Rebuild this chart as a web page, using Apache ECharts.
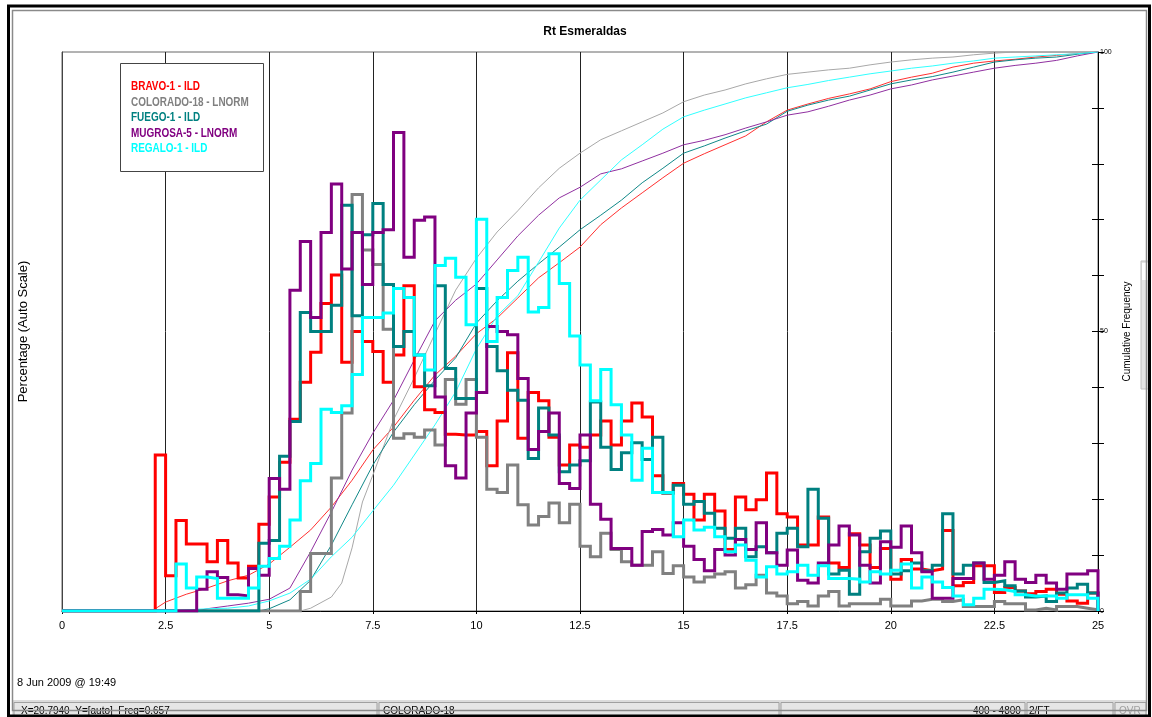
<!DOCTYPE html>
<html><head><meta charset="utf-8">
<script src="https://cdn.jsdelivr.net/npm/echarts@6/dist/echarts.min.js"></script>
<style>html,body{margin:0;padding:0;background:#fff}#c{width:1152px;height:717px}</style>
</head><body><div id="c"></div>
<script>
const SANS = "'Liberation Sans',Arial,sans-serif";

const binWidth = 0.25;
const xMin = 0, xMax = 25, xStep = 2.5;
const seriesNames = ['BRAVO-1 - ILD', 'COLORADO-18 - LNORM', 'FUEGO-1 - ILD', 'MUGROSA-5 - LNORM', 'REGALO-1 - ILD'];
const seriesColors = ['#ff0000', '#808080', '#008080', '#800080', '#00ffff'];
const cumColors = ['#ff3030', '#a8a8a8', '#108888', '#9030a0', '#30ffff'];

// histogram heights per 0.25 bin (percentage, auto scale)
const bravoHist = [
  0,0,0,0,0,0,0,0,0,27.9,
  6.3,16.2,12.0,12.0,8.8,12.6,8.6,5.9,8.0,15.5,
  20.4,26.6,34.3,40.9,46.3,55.0,60.1,44.5,50.0,48.2,
  46.4,40.9,45.8,58.2,40.1,36.0,35.5,31.6,31.5,31.5,
  32.1,26.0,34.0,46.2,30.9,39.1,37.6,31.1,26.1,29.7,
  29.3,31.5,34.0,29.7,34.0,37.2,34.7,24.2,21.1,22.8,
  20.9,16.3,20.9,17.9,11.0,20.4,18.1,19.9,24.7,17.4,
  16.8,11.8,11.8,16.8,8.6,7.8,13.8,11.8,7.8,11.2,
  5.7,9.2,7.5,7.2,7.5,14.4,4.5,5.1,8.1,8.1,
  3.3,4.2,3.6,3.1,3.5,3.9,3.0,1.8,1.4,3.2];
const coloradoHist = [
  0,0,0,0,0,0,0,0,0,0,
  0,0,0,0,0,0,0,0,0,0,
  0,0,0,3.5,10.3,10.3,23.8,35.4,74.5,64.6,
  62.0,50.4,30.9,31.7,31.1,32.4,29.7,41.4,37.0,41.4,
  31.1,21.8,21.2,26.1,19.0,15.4,16.9,19.3,15.8,19.1,
  11.6,9.7,13.9,11.0,8.8,8.2,8.2,10.6,6.7,8.1,
  6.1,5.2,6.1,6.6,7.0,4.1,4.7,6.4,3.2,2.7,
  1.3,1.7,0.9,2.7,3.5,0.9,1.3,1.3,1.3,2.1,
  0.9,0.9,1.8,2.1,2.1,1.7,2.0,0.8,0.8,0.8,
  1.7,1.3,1.3,0.2,0.5,0.2,0.8,0.8,0.5,0.2];
const fuegoHist = [
  0,0,0,0,0,0,0,0,0,0,
  0,0,0,0,0,0,0,0,0,12.1,
  12.6,27.7,33.9,53.4,50.0,50.0,54.7,72.6,52.8,67.3,
  72.9,58.4,47.3,50.0,45.8,40.3,58.2,43.4,38.0,38.0,
  57.7,47.3,43.0,39.5,37.7,27.3,36.3,31.5,24.9,26.1,
  26.9,37.4,29.3,25.3,28.3,30.1,27.1,31.1,21.1,22.5,
  19.1,19.6,17.5,14.8,13.0,14.8,9.7,11.5,10.4,13.9,
  14.8,11.5,21.8,16.6,6.6,7.3,3.0,10.6,13.0,14.3,
  6.6,7.2,8.6,7.2,8.2,17.4,6.6,8.2,8.6,5.1,
  5.4,4.5,3.6,2.5,2.7,1.7,3.2,4.1,4.8,3.2];
const mugrosaHist = [
  0,0,0,0,0,0,0,0,0,0,
  0,0,0,3.9,7.0,6.0,2.9,2.7,7.6,6.4,
  23.7,21.8,57.4,66.1,52.5,67.7,76.4,61.2,67.7,58.4,
  67.7,68.2,85.6,63.3,69.9,70.5,38.3,26.0,23.8,35.4,
  39.1,50.9,50.0,49.4,41.6,28.9,32.1,35.4,22.8,21.9,
  31.5,19.1,16.4,11.2,11.2,8.2,14.2,14.6,13.6,15.8,
  11.6,9.2,7.2,11.0,10.0,12.8,11.0,15.8,10.4,8.2,
  10.9,5.5,5.0,8.6,11.8,15.2,13.6,8.2,5.0,12.4,
  11.4,15.2,10.4,7.0,2.3,2.3,5.8,5.8,8.6,5.7,
  6.4,8.8,5.7,5.1,6.4,5.0,3.9,6.6,6.6,7.2];
const regaloHist = [
  0,0,0,0,0,0,0,0,0,0,
  0,8.4,4.1,6.1,5.8,2.3,2.3,2.3,4.1,8.0,
  9.4,11.6,16.3,23.3,26.4,36.1,35.5,36.7,42.3,52.5,
  52.5,53.3,57.7,56.1,45.8,43.1,61.8,63.1,59.7,51.2,
  70.1,48.2,56.1,60.9,63.3,53.5,54.3,63.9,58.6,49.2,
  44.0,37.6,43.2,36.9,31.5,23.4,29.1,21.2,21.2,13.3,
  16.3,14.5,15.0,13.3,10.6,11.8,9.1,6.1,7.9,6.6,
  7.0,8.2,6.4,8.1,5.8,5.8,5.7,5.2,7.0,6.6,
  7.3,8.4,4.1,6.1,5.2,4.2,2.7,1.1,2.3,3.9,
  3.8,3.5,2.9,2.7,2.7,2.7,2.3,2.9,2.9,2.3];

// cumulative frequency curves [x, percent]
const bravoCum = [[2.25,0.4],[2.5,1.6],[3,3.0],[3.5,4.1],[4,5.4],[4.5,6.4],[5,8.4],[5.5,11.4],[6,14.5],[6.5,18.6],[7,23.4],[7.5,28.8],[8,32.9],[8.5,37.7],[9,42.2],[9.5,45.6],[10,49.6],[10.5,52.4],[11,56.0],[11.5,59.6],[12,62.3],[12.5,65.1],[13,69.1],[13.5,72.1],[14,74.8],[14.5,77.5],[15,80.1],[15.5,81.8],[16,83.4],[16.5,85.0],[17,87.5],[17.5,89.6],[18,90.7],[18.5,91.7],[19,92.5],[19.5,93.4],[20,94.7],[20.5,95.5],[21,96.2],[21.5,97.3],[22,98.0],[22.5,98.4],[23,98.7],[23.5,99.1],[24,99.4],[24.5,99.7],[25,100]];
const coloradoCum = [[5.75,0],[6,0.5],[6.5,2.5],[6.75,5.0],[7,11.3],[7.25,19.5],[7.5,24.3],[8,34.2],[8.5,41.7],[9,49.6],[9.5,57.4],[10,63.1],[10.5,67.8],[11,71.6],[11.5,75.7],[12,79.2],[12.5,81.9],[13,84.3],[13.5,85.9],[14,87.5],[14.5,89.1],[15,91.1],[15.5,92.3],[16,93.2],[16.5,94.3],[17,95.2],[17.5,96.0],[18,96.4],[18.5,96.8],[19,97.1],[19.5,97.7],[20,98.2],[20.5,98.6],[21,98.9],[21.5,99.1],[22,99.5],[22.5,99.8],[23,100],[25,100]];
const fuegoCum = [[4.75,0],[5,0.4],[5.5,2.0],[6,5.5],[6.5,11.8],[7,19.0],[7.5,26.1],[8,32.0],[8.5,36.9],[9,41.3],[9.5,45.3],[10,51.5],[10.5,55.5],[11,59.0],[11.5,62.1],[12,65.1],[12.5,68.2],[13,70.8],[13.5,73.5],[14,76.6],[14.5,79.2],[15,81.9],[15.5,83.2],[16,84.6],[16.5,85.9],[17,87.1],[17.5,89.4],[18,90.5],[18.5,91.4],[19,92.1],[19.5,93.2],[20,94.3],[20.5,95.0],[21,95.6],[21.5,96.4],[22,97.3],[22.5,98.2],[23,98.6],[23.5,98.9],[24,99.1],[24.5,99.6],[25,100]];
const mugrosaCum = [[3.25,0],[3.5,0.4],[4,0.9],[4.5,1.4],[5,2.1],[5.5,4.1],[6,10.6],[6.5,17.7],[7,25.2],[7.5,31.8],[8,37.7],[8.5,44.9],[9,51.9],[9.5,55.6],[10,58.5],[10.5,62.8],[11,67.1],[11.5,70.8],[12,73.9],[12.5,75.8],[13,78.2],[13.5,79.1],[14,80.5],[14.5,81.9],[15,83.4],[15.5,84.2],[16,85.2],[16.5,86.4],[17,87.5],[17.5,88.7],[18,89.3],[18.5,90.3],[19,91.4],[19.5,92.3],[20,93.4],[20.5,94.1],[21,95.0],[21.5,95.7],[22,96.4],[22.5,97.1],[23,97.6],[23.5,98.0],[24,98.5],[24.5,99.3],[25,100]];
const regaloCum = [[2.75,0],[3,0.2],[3.5,0.4],[4,0.5],[4.5,0.9],[5,1.8],[5.5,3.2],[6,5.7],[6.5,9.7],[7,13.2],[7.5,17.9],[8,22.5],[8.5,27.9],[9,33.3],[9.5,39.2],[10,46.9],[10.5,52.8],[11,56.4],[11.5,62.4],[12,68.5],[12.5,73.5],[13,77.1],[13.5,80.7],[14,83.4],[14.5,86.2],[15,88.4],[15.5,89.6],[16,90.7],[16.5,91.8],[17,92.7],[17.5,93.6],[18,94.2],[18.5,94.9],[19,95.5],[19.5,96.1],[20,96.6],[20.5,97.1],[21,97.5],[21.5,98.0],[22,98.4],[22.5,98.9],[23,99.1],[23.5,99.3],[24,99.5],[24.5,99.7],[25,100]];

const histSets = [bravoHist, coloradoHist, fuegoHist, mugrosaHist, regaloHist];
const cumSets = [bravoCum, coloradoCum, fuegoCum, mugrosaCum, regaloCum];

function histData(vals) {
  const d = vals.map((v, i) => [i * binWidth, v]);
  d.push([vals.length * binWidth, vals[vals.length - 1]]);
  d.push([vals.length * binWidth, 0]);
  return d;
}

const series = [];
cumSets.forEach((c, i) => {
  series.push({
    name: seriesNames[i] + ' (cum)', type: 'line', yAxisIndex: 1, data: c,
    showSymbol: false, symbol: 'none', silent: true, z: 2,
    lineStyle: { color: cumColors[i], width: 1 }
  });
});
histSets.forEach((h, i) => {
  series.push({
    name: seriesNames[i], type: 'line', yAxisIndex: 0, step: 'end', data: histData(h),
    showSymbol: false, symbol: 'none', silent: true, z: 3 + i,
    lineStyle: { color: seriesColors[i], width: 3, join: 'miter' }
  });
});

const legendTexts = seriesNames.map((n, i) => ({
  type: 'text', x: 131, y: 87 + i * 15.4, scaleX: 0.83, z: 51,
  style: { text: n, fill: seriesColors[i], font: "bold 12px " + SANS, textVerticalAlign: 'middle', verticalAlign: 'middle' }
}));

const panel = (x, w) => ({
  type: 'rect', shape: { x: x, y: 702.5, width: w, height: 14 },
  style: { fill: '#e6e6e6', stroke: '#a0a0a0', lineWidth: 1 }
});
const statusText = (x, t, c) => ({
  type: 'text', x: x, y: 711,
  style: { text: t, fill: c || '#000', font: "10px " + SANS, textVerticalAlign: 'middle', verticalAlign: 'middle' }
});

const option = {
  animation: false,
  backgroundColor: '#fff',
  title: {
    text: 'Rt Esmeraldas', left: 580, top: 21, textAlign: 'center',
    textStyle: { fontSize: 12, fontWeight: 'bold', fontFamily: SANS, color: '#000' }
  },
  grid: { left: 62, right: 54, top: 52, bottom: 106, show: true, borderColor: '#666', borderWidth: 1, backgroundColor: 'transparent' },
  xAxis: {
    type: 'value', min: xMin, max: xMax, interval: xStep,
    axisLine: { lineStyle: { color: '#000', width: 1 } },
    axisTick: { show: true, length: 3, lineStyle: { color: '#000' } },
    axisLabel: { color: '#000', fontSize: 11, fontFamily: SANS, margin: 9 },
    splitLine: { show: true, lineStyle: { color: '#222', width: 1 } }
  },
  yAxis: [
    {
      type: 'value', min: 0, max: 100, position: 'left',
      axisLine: { show: true, lineStyle: { color: '#444' } },
      axisTick: { show: false }, axisLabel: { show: false }, splitLine: { show: false },
      name: 'Percentage (Auto Scale)', nameLocation: 'middle', nameRotate: 90, nameGap: 32,
      nameTextStyle: { fontSize: 13, fontFamily: SANS, color: '#000' }
    },
    {
      type: 'value', min: 0, max: 100, interval: 10, position: 'right',
      axisLine: { show: true, lineStyle: { color: '#000' } },
      axisTick: { show: true, length: 6, lineStyle: { color: '#000' } },
      axisLabel: { show: true, fontSize: 7, fontFamily: SANS, color: '#000', margin: 2,
        formatter: v => (v % 50 === 0 ? String(v) : '') },
      splitLine: { show: false },
      name: 'Cumulative Frequency', nameLocation: 'middle', nameRotate: 90, nameGap: 20,
      nameTextStyle: { fontSize: 10, fontFamily: SANS, color: '#000' }
    },
    {
      type: 'value', min: 0, max: 100, interval: 10, position: 'right',
      axisLine: { show: false },
      axisTick: { show: true, inside: true, length: 6, lineStyle: { color: '#000' } },
      axisLabel: { show: false }, splitLine: { show: false }
    }
  ],
  series: series,
  graphic: [
    { type: 'rect', shape: { x: 8.5, y: 6, width: 1141, height: 710 }, style: { fill: 'none', stroke: '#000', lineWidth: 3 }, z: 100 },
    { type: 'rect', shape: { x: 12.5, y: 10.5, width: 1134, height: 700 }, style: { fill: 'none', stroke: '#8a8a8a', lineWidth: 1.5 }, z: 99 },
    { type: 'rect', shape: { x: 120.5, y: 63.5, width: 143, height: 108 }, style: { fill: '#fff', stroke: '#444', lineWidth: 1 }, z: 50 },
    ...legendTexts,
    { type: 'text', x: 17, y: 683, style: { text: '8 Jun 2009 @ 19:49', fill: '#000', font: "11px " + SANS, textVerticalAlign: 'middle', verticalAlign: 'middle' } },
    { type: 'rect', shape: { x: 12, y: 700, width: 1135, height: 16 }, style: { fill: '#dcdcdc' } },
    panel(14, 363), panel(379, 400), panel(781, 244), panel(1027, 86), panel(1115, 31),
    statusText(21, 'X=20.7940  Y=[auto]  Freq=0.657'),
    statusText(383, 'COLORADO-18'),
    statusText(973, '400 - 4800'),
    statusText(1029, '2/FT'),
    statusText(1119, 'OVR', '#a0a0a0'),
    { type: 'rect', shape: { x: 1141, y: 261, width: 9, height: 128 }, style: { fill: '#e4e4e4', stroke: '#c0c0c0', lineWidth: 1 } },
    { type: 'rect', shape: { x: 1142, y: 263, width: 8, height: 17 }, style: { fill: '#fff' } }
  ]
};
const chart = echarts.init(document.getElementById('c'));
chart.setOption(option);
</script></body></html>
